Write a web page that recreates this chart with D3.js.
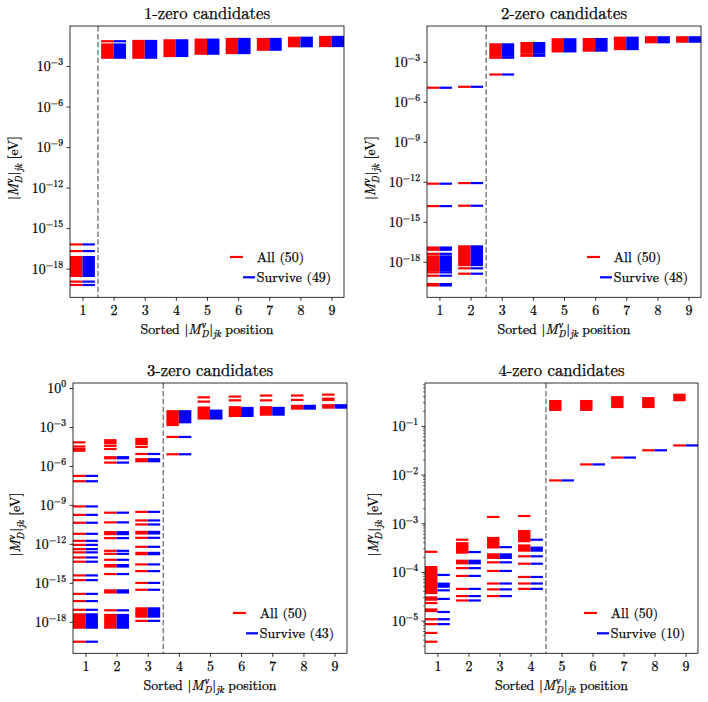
<!DOCTYPE html>
<html><head><meta charset="utf-8">
<script src="https://cdn.jsdelivr.net/npm/d3@7"></script>
<style>body{margin:0;background:#fff}</style>
</head><body>
<svg id="c" width="708" height="702"></svg>
<script>
// ---------------- data ----------------
const positions = [1, 2, 3, 4, 5, 6, 7, 8, 9];
const titles = ["1-zero candidates", "2-zero candidates", "3-zero candidates", "4-zero candidates"];
const allCounts = [50, 50, 50, 50];
const surviveCounts = [49, 48, 43, 10];
const yTicks13 = [1e-3, 1e-6, 1e-9, 1e-12, 1e-15, 1e-18];
const yTicks3 = [1e0, 1e-3, 1e-6, 1e-9, 1e-12, 1e-15, 1e-18];
const yTicks4 = [1e-1, 1e-2, 1e-3, 1e-4, 1e-5];

// each position: list of single values (eV) or [low, high] dense bands (eV)
const p1All = [
  [6.2e-17, 2.0e-17, [2.9e-19, 7.2e-18], 1.1e-19, 6.2e-20],
  [6.8e-2, [4.1e-3, 3.9e-2]],
  [[4.1e-3, 7.1e-2]],
  [[5.5e-3, 7.9e-2]],
  [[8.1e-3, 8.9e-2]],
  [[9.1e-3, 1.0e-1]],
  [[1.6e-2, 1.0e-1]],
  [[2.9e-2, 1.23e-1]],
  [[3.0e-2, 1.41e-1]]
];
const p1Survive = [
  [6.2e-17, 2.0e-17, [2.9e-19, 7.2e-18], 1.1e-19, 6.2e-20],
  [6.8e-2, [4.1e-3, 3.9e-2]],
  [[4.1e-3, 7.1e-2]],
  [[5.5e-3, 7.9e-2]],
  [[8.1e-3, 8.9e-2]],
  [[9.1e-3, 1.0e-1]],
  [[1.6e-2, 1.0e-1]],
  [[2.9e-2, 1.23e-1]],
  [[3.0e-2, 1.41e-1]]
];

const p2All = [
  [1.12e-5, 7.1e-13, 1.48e-14, [7.9e-18, 1.15e-17], 3.9e-18, [2.3e-19, 2.5e-18], 1.6e-19, 8.9e-20, [1.66e-20, 2.1e-20]],
  [1.32e-5, 7.9e-13, 1.58e-14, [5.6e-19, 1.41e-17], 3.2e-19, 1.26e-19],
  [1.1e-4, 2.0e-3, [2.8e-3, 2.0e-2]],
  [[2.8e-3, 3.5e-3], [5.0e-3, 2.5e-2]],
  [[6.0e-3, 4.8e-2]],
  [[6.8e-3, 5.0e-2]],
  [[8.9e-3, 6.3e-2]],
  [[2.9e-2, 6.8e-2]],
  [[3.2e-2, 6.8e-2]]
];
const p2Survive = [
  [1.12e-5, 7.1e-13, 1.48e-14, [7.9e-18, 1.15e-17], 3.9e-18, [2.3e-19, 2.5e-18], 1.6e-19, 8.9e-20, [1.66e-20, 2.1e-20]],
  [1.32e-5, 7.9e-13, 1.58e-14, [5.6e-19, 1.41e-17], 3.2e-19, 1.26e-19],
  [1.1e-4, 2.0e-3, [2.8e-3, 2.0e-2]],
  [[2.8e-3, 3.5e-3], [5.0e-3, 2.5e-2]],
  [[6.0e-3, 4.8e-2]],
  [[6.8e-3, 5.0e-2]],
  [[8.9e-3, 6.3e-2]],
  [[2.9e-2, 6.8e-2]],
  [[3.2e-2, 6.8e-2]]
];

const p3All = [
  [6.5e-5, 3.1e-5, [1.48e-5, 2.0e-5], 1.7e-7, 6.6e-8, 7.6e-10, 1.7e-10, 4.2e-11, 5.9e-12, 1.7e-12, 8.3e-13,
   3.9e-13, 2.2e-13, 8.9e-14, 4.2e-14, 3.7e-15, 1.6e-15, 1.4e-16, 3.9e-17, 8.3e-18, [3.5e-19, 3.7e-18], 2.9e-20],
  [[5.6e-5, 9.5e-5], 3.5e-5, 2.0e-5, [3.9e-6, 4.7e-6], 1.8e-6, 2.5e-10, 4.5e-11, [5.6e-12, 7.9e-12], 2.75e-12,
   2.9e-13, 1.7e-13, 5.9e-14, [1.8e-14, 2.3e-14], 4.7e-15, [1.8e-16, 2.6e-16], 7.6e-18, [3.5e-19, 3.3e-18]],
  [[4.9e-5, 1.2e-4], 2.9e-5, 8.3e-6, [2.3e-6, 3.3e-6], 2.9e-10, 6.3e-11, 3.1e-11, [6.3e-12, 8.3e-12], 2.9e-12,
   5.9e-13, [1.6e-13, 2.0e-13], 2.6e-14, 7.9e-15, 9.8e-16, 2.9e-16, [2.5e-18, 1.07e-17], 1.17e-18],
  [[1.41e-3, 1.62e-2], 1.7e-4, 7.9e-6],
  [0.191, 8.9e-2, [4.5e-3, 3.1e-2]],
  [0.219, 0.112, [7.1e-3, 3.3e-2]],
  [0.263, 0.112, [8.9e-3, 3.3e-2]],
  [0.263, 0.120, [2.6e-2, 4.2e-2]],
  [0.309, [0.120, 0.151], [3.1e-2, 4.7e-2]]
];
const p3Survive = [
  [1.7e-7, 6.6e-8, 7.6e-10, 1.7e-10, 4.2e-11, 5.9e-12, 1.7e-12, 8.3e-13,
   3.9e-13, 2.2e-13, 8.9e-14, 4.2e-14, 3.7e-15, 1.6e-15, 1.4e-16, 3.9e-17, 8.3e-18, [3.5e-19, 3.7e-18], 2.9e-20],
  [[3.9e-6, 4.7e-6], 1.8e-6, 2.5e-10, 4.5e-11, [5.6e-12, 7.9e-12], 2.75e-12,
   2.9e-13, 1.7e-13, 5.9e-14, [1.8e-14, 2.3e-14], 4.7e-15, [1.8e-16, 2.6e-16], 7.6e-18, [3.5e-19, 3.3e-18]],
  [8.3e-6, [2.3e-6, 3.3e-6], 2.9e-10, 6.3e-11, 3.1e-11, [6.3e-12, 8.3e-12], 2.9e-12,
   5.9e-13, [1.6e-13, 2.0e-13], 2.6e-14, 7.9e-15, 9.8e-16, 2.9e-16, [2.5e-18, 1.07e-17], 1.17e-18],
  [[2.3e-3, 1.62e-2], 1.7e-4, 7.9e-6],
  [[4.5e-3, 1.8e-2]],
  [[7.1e-3, 2.9e-2]],
  [[8.9e-3, 2.9e-2]],
  [[2.6e-2, 4.2e-2]],
  [[3.1e-2, 4.7e-2]]
];

const p4All = [
  [2.6e-4, [3.7e-5, 1.26e-4], [2.7e-5, 3.0e-5], 2.3e-5, [1.58e-5, 1.7e-5], 1.07e-5, 8.5e-6, 5.6e-6, 3.7e-6],
  [4.6e-4, [2.5e-4, 3.9e-4], [1.51e-4, 1.7e-4], 1.2e-4, 8.3e-5, 4.5e-5, 3.2e-5, 2.6e-5],
  [1.35e-3, [3.2e-4, 5.0e-4], [1.95e-4, 2.3e-4], 1.58e-4, 1.05e-4, 5.8e-5, 4.4e-5, 3.2e-5],
  [1.41e-3, [4.3e-4, 6.9e-4], [2.75e-4, 3.5e-4], 2.1e-4, 1.48e-4, 7.9e-5, 5.8e-5, 4.5e-5],
  [[2.14e-1, 2.34e-1], [2.57e-1, 3.24e-1], 7.6e-3],
  [[2.14e-1, 2.24e-1], [2.45e-1, 3.24e-1], 1.62e-2],
  [[2.45e-1, 3.89e-1], 2.24e-2],
  [[2.45e-1, 3.72e-1], 3.16e-2],
  [[3.39e-1, 4.37e-1], 3.98e-2]
];
const p4Survive = [
  [8.7e-5, [5.0e-5, 5.75e-5], 4.2e-5, 2.8e-5, 1.51e-5, 1.07e-5, 8.5e-6],
  [2.57e-4, [1.51e-4, 1.7e-4], 1.2e-4, 8.3e-5, 4.5e-5, 3.2e-5, 2.6e-5],
  [3.24e-4, [1.95e-4, 2.3e-4], 1.58e-4, 1.05e-4, 5.8e-5, 4.4e-5, 3.2e-5],
  [4.6e-4, [2.75e-4, 3.16e-4], 2.1e-4, 1.48e-4, 7.9e-5, 5.8e-5, 4.5e-5],
  [7.6e-3],
  [1.62e-2],
  [2.24e-2],
  [3.16e-2],
  [3.98e-2]
];

const allData = [p1All, p2All, p3All, p4All];
const surviveData = [p1Survive, p2Survive, p3Survive, p4Survive];

// ---------------- layout ----------------
const panels = [
  {L: 70,  R: 344, T: 26,  B: 297.3, ylo: -20.12, yhi: -0.04,  cut: 1.5, ticks: yTicks13, minor: false, ylab: 52},
  {L: 427, R: 701, T: 26,  B: 297.3, ylo: -20.67, yhi: -0.32,  cut: 2.5, ticks: yTicks13, minor: false, ylab: 52},
  {L: 73,  R: 347, T: 383, B: 653.3, ylo: -20.43, yhi: 0.385,  cut: 3.5, ticks: yTicks3,  minor: false, ylab: 53},
  {L: 425, R: 698, T: 383, B: 653.3, ylo: -5.67,  yhi: -0.118, cut: 4.5, ticks: yTicks4,  minor: true,  ylab: 47}
];
const FONT = "Latin Modern Roman";
const FS = 13.9, SUP = 9.7;
const svg = d3.select("#c");
const defs = svg.append("defs");

function txt(sel) {
  return sel.append("text").style("font-family", FONT).attr("fill", "#000")
    .attr("stroke", "#000").attr("stroke-width", 0.25);
}
function mathLabel(t, prefix, suffix) {
  if (prefix) t.append("tspan").text(prefix);
  t.append("tspan").text("|");
  t.append("tspan").style("font-style", "italic").text("M");
  t.append("tspan").attr("font-size", SUP).style("font-style", "italic").attr("dy", -5.5).attr("dx", 0.8).text("ν");
  t.append("tspan").attr("font-size", SUP).style("font-style", "italic").attr("dy", 9).attr("dx", -4.8).text("D");
  t.append("tspan").attr("dy", -3.5).attr("dx", 0.8).text("|");
  t.append("tspan").attr("font-size", SUP).style("font-style", "italic").attr("dy", 3.5).text("jk");
  t.append("tspan").attr("dy", -3.5).text(suffix);
}

panels.forEach((P, pi) => {
  const g = svg.append("g");
  const x = d3.scaleLinear().domain([0.6, 9.4]).range([P.L, P.R]);
  const y = d3.scaleLog().domain([Math.pow(10, P.ylo), Math.pow(10, P.yhi)]).range([P.B, P.T]);

  defs.append("clipPath").attr("id", "clip" + pi).append("rect")
    .attr("x", P.L).attr("y", P.T).attr("width", P.R - P.L).attr("height", P.B - P.T);
  const marks = g.append("g").attr("clip-path", `url(#clip${pi})`);

  const series = [
    {data: allData[pi], color: "#ff0000", off: -0.4},
    {data: surviveData[pi], color: "#0000ff", off: 0}
  ];
  series.forEach(s => {
    const flat = [];
    s.data.forEach((list, i) => list.forEach(e => {
      const [lo, hi] = Array.isArray(e) ? e : [e, e];
      flat.push({pos: positions[i], lo, hi});
    }));
    marks.selectAll(null).data(flat).enter().append("rect")
      .attr("x", d => x(d.pos + s.off))
      .attr("width", d => x(d.pos + s.off + 0.4) - x(d.pos + s.off))
      .attr("y", d => y(d.hi) - 1.1)
      .attr("height", d => y(d.lo) - y(d.hi) + 2.2)
      .attr("fill", s.color);
  });

  g.append("line").attr("x1", x(P.cut)).attr("x2", x(P.cut)).attr("y1", P.T).attr("y2", P.B)
    .attr("stroke", "#808080").attr("stroke-width", 1.5).attr("stroke-dasharray", "5.5,2.4");

  const xa = g.append("g").attr("transform", `translate(0,${P.B})`)
    .call(d3.axisBottom(x).tickValues(positions).tickSize(3.5).tickPadding(4.5).tickFormat(d3.format("d")));
  xa.select(".domain").remove();
  xa.selectAll("line").attr("stroke", "#000").attr("stroke-width", 0.8);
  xa.selectAll("text").attr("font-size", FS).style("font-family", FONT).attr("fill", "#000")
    .attr("stroke", "#000").attr("stroke-width", 0.25);

  const ya = g.append("g").attr("transform", `translate(${P.L},0)`)
    .call(d3.axisLeft(y).tickValues(P.ticks).tickSize(3.5).tickFormat(() => ""));
  ya.select(".domain").remove();
  ya.selectAll("line").attr("stroke", "#000").attr("stroke-width", 0.8);
  ya.selectAll(".tick text").remove();
  P.ticks.forEach(v => {
    const ex = Math.round(Math.log10(v));
    const t = txt(g).attr("x", P.L - 7).attr("y", y(v) + 5.3)
      .attr("text-anchor", "end").attr("font-size", FS);
    t.append("tspan").text("10");
    t.append("tspan").attr("font-size", SUP).attr("dy", -6).text(ex < 0 ? "−" + (-ex) : String(ex));
  });
  if (P.minor) {
    const minors = [];
    for (let k = -6; k <= 0; k++) for (let m = 2; m <= 9; m++) {
      const v = m * Math.pow(10, k);
      const e = Math.log10(v);
      if (e > P.ylo && e < P.yhi) minors.push(v);
    }
    g.selectAll(null).data(minors).enter().append("line")
      .attr("x1", P.L - 2).attr("x2", P.L).attr("y1", d => y(d)).attr("y2", d => y(d))
      .attr("stroke", "#000").attr("stroke-width", 0.6);
  }

  g.append("rect").attr("x", P.L).attr("y", P.T).attr("width", P.R - P.L).attr("height", P.B - P.T)
    .attr("fill", "none").attr("stroke", "#000").attr("stroke-width", 0.8);

  txt(g).attr("x", (P.L + P.R) / 2).attr("y", P.T - 7.5).attr("text-anchor", "middle")
    .attr("font-size", 16.7).text(titles[pi]);

  const xl = txt(g).attr("x", (P.L + P.R) / 2).attr("y", P.B + 36.5)
    .attr("text-anchor", "middle").attr("font-size", FS);
  mathLabel(xl, "Sorted ", " position");

  const cy = (P.T + P.B) / 2 + 6.5;
  const yl = txt(g).attr("transform", `translate(${P.L - P.ylab},${cy}) rotate(-90)`)
    .attr("text-anchor", "middle").attr("font-size", FS);
  mathLabel(yl, "", " [eV]");

  const leg = [
    {c: "#ff0000", x1: P.R - 114, x2: P.R - 101, yy: P.B - 40.3, label: `All (${allCounts[pi]})`},
    {c: "#0000ff", x1: P.R - 101, x2: P.R - 89, yy: P.B - 20, label: `Survive (${surviveCounts[pi]})`}
  ];
  leg.forEach(l => {
    g.append("line").attr("x1", l.x1).attr("x2", l.x2).attr("y1", l.yy).attr("y2", l.yy)
      .attr("stroke", l.c).attr("stroke-width", 2.2);
    txt(g).attr("x", P.R - 87.3).attr("y", l.yy + 4.8).attr("font-size", FS).text(l.label);
  });
});
</script>
</body></html>
